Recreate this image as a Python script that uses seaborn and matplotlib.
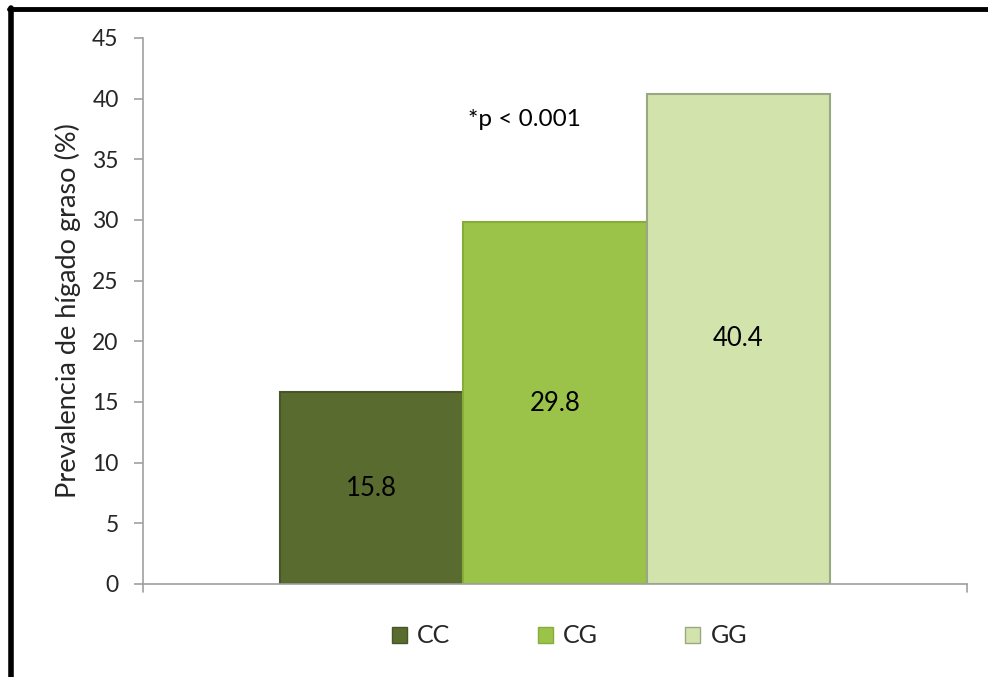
import matplotlib
matplotlib.use("Agg")
import matplotlib.pyplot as plt
import seaborn as sns
import pandas as pd
from matplotlib.lines import Line2D
from matplotlib.patches import Patch

# Prevalence of fatty liver by genotype
genotypes = ["CC", "CG", "GG"]
prevalence = [15.8, 29.8, 40.4]
bar_colors = ["#5a6b2f", "#9cc349", "#d2e4ab"]
edge_colors = ["#46552a", "#86ad38", "#9aa784"]
y_ticks = [0, 5, 10, 15, 20, 25, 30, 35, 40, 45]
y_label = "Prevalencia de hígado graso (%)"
note = "*p < 0.001"

sns.set_theme(style="white")
plt.rcParams["font.family"] = ["Lato", "DejaVu Sans"]

df = pd.DataFrame({"grupo": [""] * len(genotypes),
                   "genotipo": genotypes,
                   "valor": prevalence})

fig = plt.figure(figsize=(9.88, 6.77), dpi=100)
ax = fig.add_axes([0.1447, 0.1374, 0.834, 0.8065])

sns.barplot(data=df, x="grupo", y="valor", hue="genotipo",
            hue_order=genotypes, palette=bar_colors, width=0.8,
            gap=0, saturation=1, legend=False, ax=ax)

for patch, ec in zip(ax.patches, edge_colors):
    patch.set_edgecolor(ec)
    patch.set_linewidth(1.5)

# value labels centred inside each bar
for patch, val in zip(ax.patches, prevalence):
    cx = patch.get_x() + patch.get_width() / 2
    ax.text(cx, val / 2, f"{val:.1f}", ha="center", va="center",
            fontsize=18.5, color="black")

ax.text(-0.045, 38.3, note, ha="center", va="center", fontsize=17.5,
        color="black")

xl = (-0.6, 0.6)
ax.set_xlim(*xl)
ax.set_ylim(0, 45)
ax.set_yticks(y_ticks)
ax.set_yticklabels([str(t) for t in y_ticks], fontsize=16.5)
ax.set_xticks([])
ax.set_xlabel("")
ax.set_ylabel(y_label, fontsize=19.5, labelpad=8)

for side in ["top", "right"]:
    ax.spines[side].set_visible(False)
for side in ["left", "bottom"]:
    ax.spines[side].set_color("#a0a0a0")
    ax.spines[side].set_linewidth(1.2)
ax.tick_params(axis="y", which="both", left=True, length=6.5, width=1.2,
               color="#a0a0a0", pad=11)

# end ticks on the category axis
for xe in xl:
    ax.plot([xe, xe], [0, -0.7], color="#a0a0a0", lw=1.2, clip_on=False)

handles = [Patch(facecolor=c, edgecolor=e, linewidth=1)
           for c, e in zip(bar_colors, edge_colors)]
fig.legend(handles, genotypes, loc="center", ncol=3,
           bbox_to_anchor=(0.5766, 0.0606), frameon=False, fontsize=18,
           handlelength=0.6, handleheight=0.6, handletextpad=0.4,
           columnspacing=3.5)

# heavy frame lines on the left and top edges
fig.add_artist(Line2D([0.0112, 0.0112], [0.0, 0.9885], color="black",
                      lw=4, transform=fig.transFigure))
fig.add_artist(Line2D([0.0095, 1.0], [0.9865, 0.9865], color="black",
                      lw=3.5, transform=fig.transFigure))

fig.savefig("out.png", dpi=100)
